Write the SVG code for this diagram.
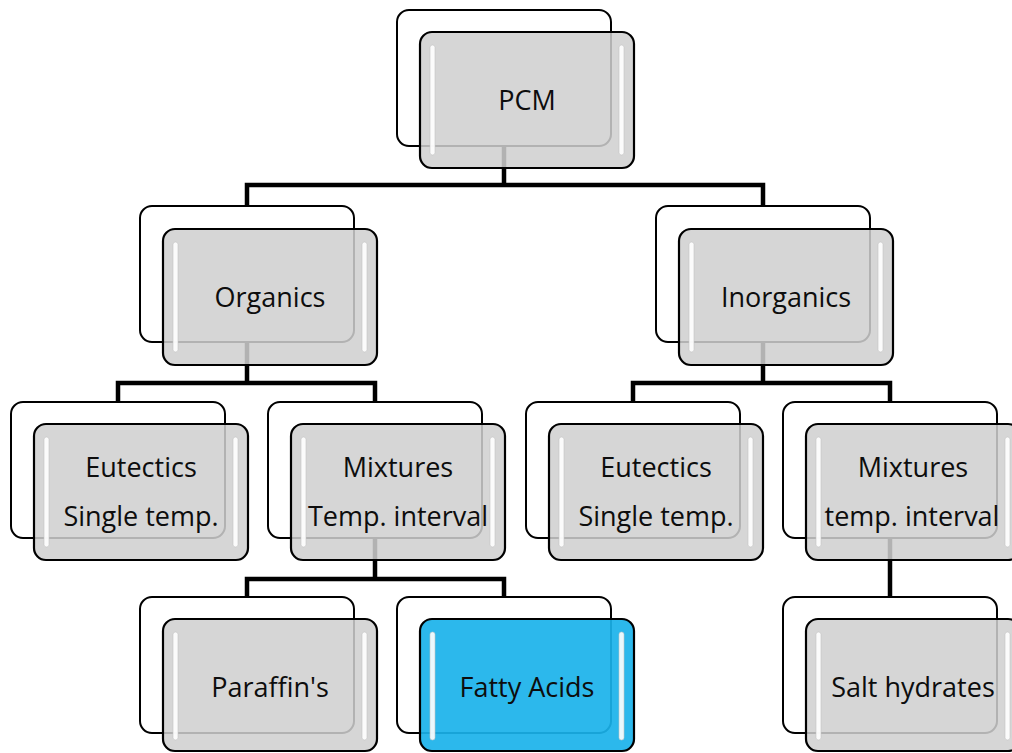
<svg xmlns="http://www.w3.org/2000/svg" width="1012" height="753" viewBox="0 0 1012 753">
<style>
.back{fill:#ffffff;stroke:#000000;stroke-width:2}
.front{fill:#cfcfcf;fill-opacity:0.86;stroke:#000000;stroke-width:2.2}
.blue{fill:#1ab2ea;fill-opacity:0.92}
.hl{fill:#ffffff;fill-opacity:0.9;stroke:#c4c4c4;stroke-width:0.6}
.lbl{font-family:"Open Sans","Noto Sans",sans-serif;font-size:27px;fill:#0d0d0d;text-anchor:middle}
.conn{fill:none;stroke:#000000;stroke-width:4.5}
</style>
<rect width="1012" height="753" fill="#ffffff"/>
<g id="connectors">
<path class="conn" d="M504,146 V185 M247,206 V185 H763 V206"/>
<path class="conn" d="M247,342 V383 M118,402 V383 H375 V402"/>
<path class="conn" d="M763,342 V383 M633,402 V383 H890 V402"/>
<path class="conn" d="M375,538 V579 M247,597 V579 H504 V597"/>
<path class="conn" d="M890,538 V597"/>
</g>
<g id="pcm">
<rect class="back" x="397" y="10" width="214" height="136" rx="12"/>
<rect class="front" x="420" y="32" width="214" height="136" rx="12"/>
<rect class="hl" x="430" y="45" width="5" height="110" rx="2.5"/>
<rect class="hl" x="619" y="45" width="5" height="110" rx="2.5"/>
<text class="lbl" x="527" y="110">PCM</text>
</g>
<g id="organics">
<rect class="back" x="140" y="206" width="214" height="136" rx="12"/>
<rect class="front" x="163" y="229" width="214" height="136" rx="12"/>
<rect class="hl" x="173" y="242" width="5" height="110" rx="2.5"/>
<rect class="hl" x="362" y="242" width="5" height="110" rx="2.5"/>
<text class="lbl" x="270" y="307">Organics</text>
</g>
<g id="inorganics">
<rect class="back" x="656" y="206" width="214" height="136" rx="12"/>
<rect class="front" x="679" y="229" width="214" height="136" rx="12"/>
<rect class="hl" x="689" y="242" width="5" height="110" rx="2.5"/>
<rect class="hl" x="878" y="242" width="5" height="110" rx="2.5"/>
<text class="lbl" x="786" y="307">Inorganics</text>
</g>
<g id="eutectics-org">
<rect class="back" x="11" y="402" width="214" height="136" rx="12"/>
<rect class="front" x="34" y="424" width="214" height="136" rx="12"/>
<rect class="hl" x="44" y="437" width="5" height="110" rx="2.5"/>
<rect class="hl" x="233" y="437" width="5" height="110" rx="2.5"/>
<text class="lbl" x="141" y="477">Eutectics</text>
<text class="lbl" x="141" y="526">Single temp.</text>
</g>
<g id="mixtures-org">
<rect class="back" x="268" y="402" width="214" height="136" rx="12"/>
<rect class="front" x="291" y="424" width="214" height="136" rx="12"/>
<rect class="hl" x="301" y="437" width="5" height="110" rx="2.5"/>
<rect class="hl" x="490" y="437" width="5" height="110" rx="2.5"/>
<text class="lbl" x="398" y="477">Mixtures</text>
<text class="lbl" x="398" y="526">Temp. interval</text>
</g>
<g id="eutectics-inorg">
<rect class="back" x="526" y="402" width="214" height="136" rx="12"/>
<rect class="front" x="549" y="424" width="214" height="136" rx="12"/>
<rect class="hl" x="559" y="437" width="5" height="110" rx="2.5"/>
<rect class="hl" x="748" y="437" width="5" height="110" rx="2.5"/>
<text class="lbl" x="656" y="477">Eutectics</text>
<text class="lbl" x="656" y="526">Single temp.</text>
</g>
<g id="mixtures-inorg">
<rect class="back" x="783" y="402" width="214" height="136" rx="12"/>
<rect class="front" x="806" y="424" width="214" height="136" rx="12"/>
<rect class="hl" x="816" y="437" width="5" height="110" rx="2.5"/>
<rect class="hl" x="1005" y="437" width="5" height="110" rx="2.5"/>
<text class="lbl" x="913" y="477">Mixtures</text>
<text class="lbl" x="912" y="526">temp. interval</text>
</g>
<g id="paraffins">
<rect class="back" x="140" y="597" width="214" height="136" rx="12"/>
<rect class="front" x="163" y="619" width="214" height="132" rx="12"/>
<rect class="hl" x="173" y="632" width="5" height="108" rx="2.5"/>
<rect class="hl" x="362" y="632" width="5" height="108" rx="2.5"/>
<text class="lbl" x="270" y="697">Paraffin's</text>
</g>
<g id="fatty-acids">
<rect class="back" x="397" y="597" width="214" height="136" rx="12"/>
<rect class="front blue" x="420" y="619" width="214" height="132" rx="12"/>
<rect class="hl" x="430" y="632" width="5" height="108" rx="2.5"/>
<rect class="hl" x="619" y="632" width="5" height="108" rx="2.5"/>
<text class="lbl" x="527" y="697">Fatty Acids</text>
</g>
<g id="salt-hydrates">
<rect class="back" x="783" y="597" width="214" height="136" rx="12"/>
<rect class="front" x="806" y="619" width="214" height="132" rx="12"/>
<rect class="hl" x="816" y="632" width="5" height="108" rx="2.5"/>
<rect class="hl" x="1005" y="632" width="5" height="108" rx="2.5"/>
<text class="lbl" x="913" y="697">Salt hydrates</text>
</g>
</svg>
